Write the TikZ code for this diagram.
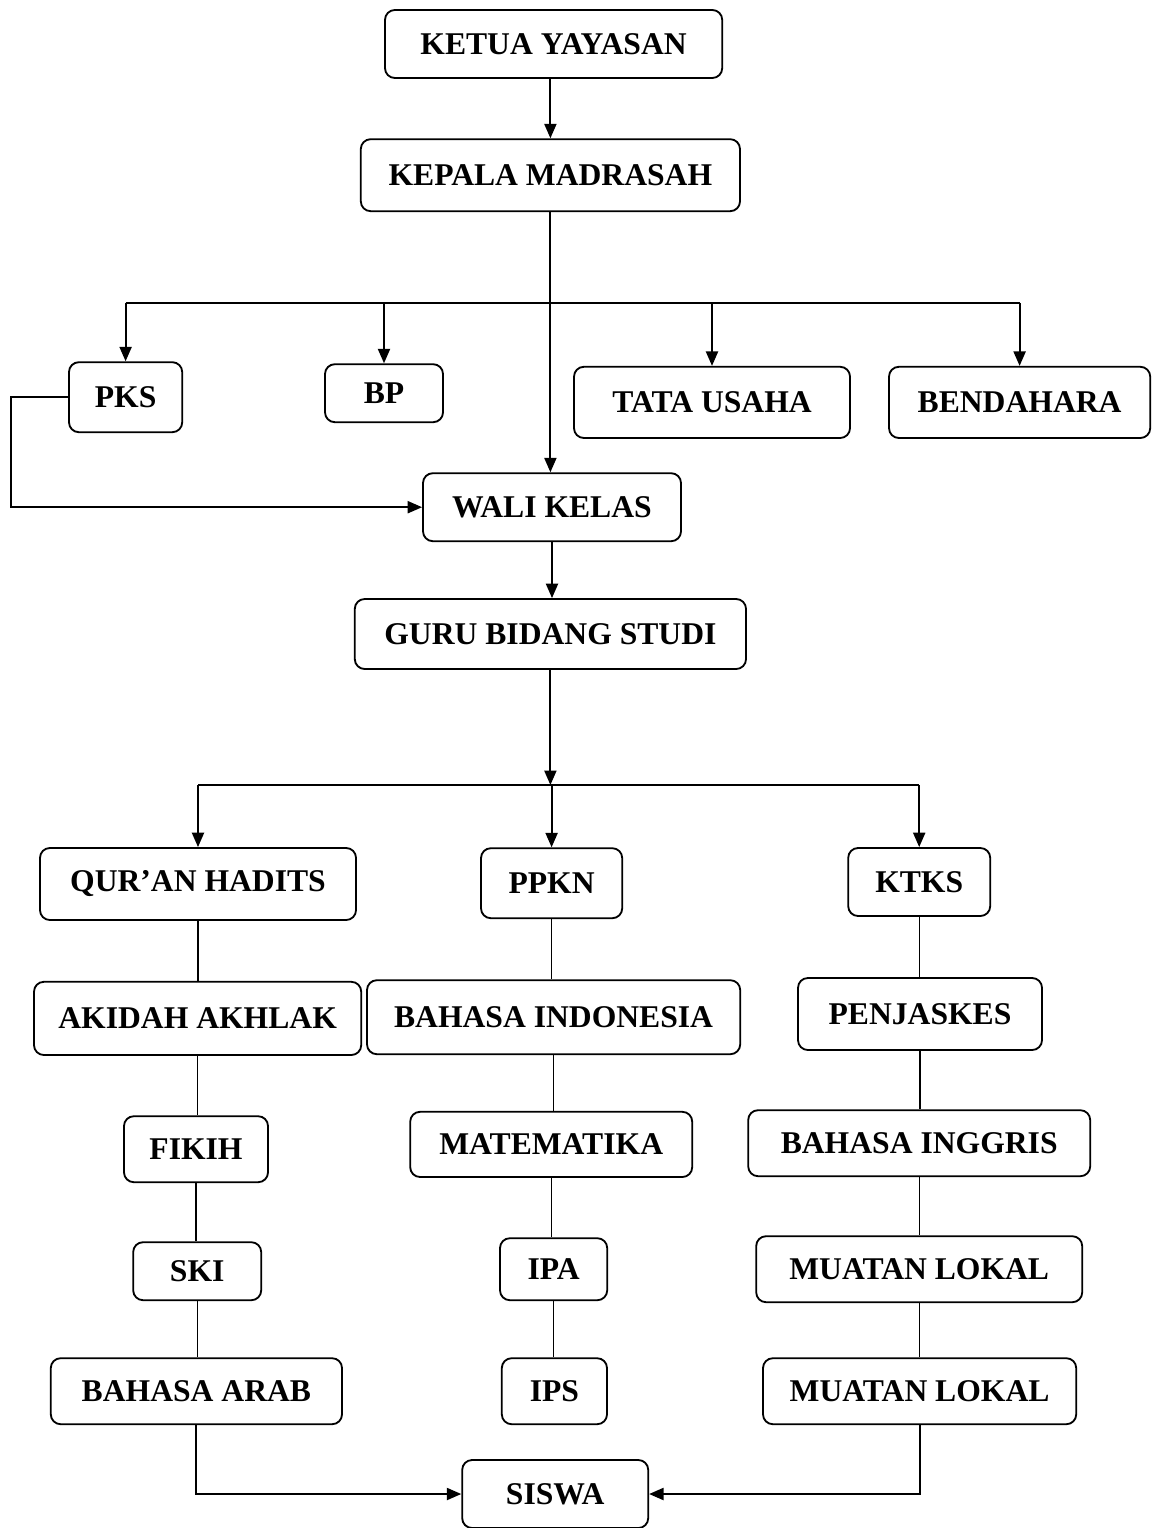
\documentclass[tikz,border=0pt]{standalone}
\usepackage{fontspec}
\setmainfont{Liberation Serif}
\usetikzlibrary{arrows.meta}

\begin{document}
\begin{tikzpicture}[>={Triangle[length=0.36cm, width=0.3cm]},
  box/.style={draw, line width=1.3pt, rounded corners=7pt, inner sep=0pt,
              font=\fontsize{22.5}{27}\selectfont\bfseries, align=center},
  link/.style={line width=1.4pt},
  stem/.style={line width=0.8pt}]
  \useasboundingbox (0,0) rectangle (28.9,-38.2);
  \node[box, minimum width=8.43cm, minimum height=1.70cm] (ketua) at (13.84,-1.10) {KETUA YAYASAN};
  \node[box, minimum width=9.48cm, minimum height=1.80cm] (kepala) at (13.76,-4.38) {KEPALA MADRASAH};
  \node[box, minimum width=2.83cm, minimum height=1.75cm] (pks) at (3.14,-9.93) {PKS};
  \node[box, minimum width=2.95cm, minimum height=1.45cm] (bp) at (9.60,-9.83) {BP};
  \node[box, minimum width=6.90cm, minimum height=1.78cm] (tata) at (17.80,-10.06) {TATA USAHA};
  \node[box, minimum width=6.53cm, minimum height=1.78cm] (bendahara) at (25.49,-10.06) {BENDAHARA};
  \node[box, minimum width=6.45cm, minimum height=1.70cm] (wali) at (13.80,-12.68) {WALI KELAS};
  \node[box, minimum width=9.78cm, minimum height=1.75cm] (guru) at (13.76,-15.85) {GURU BIDANG STUDI};
  \node[box, minimum width=7.90cm, minimum height=1.80cm] (quran) at (4.95,-22.10) {QUR’AN HADITS};
  \node[box, minimum width=3.53cm, minimum height=1.75cm] (ppkn) at (13.79,-22.08) {PPKN};
  \node[box, minimum width=3.55cm, minimum height=1.70cm] (ktks) at (22.98,-22.05) {KTKS};
  \node[box, minimum width=8.18cm, minimum height=1.83cm] (akidah) at (4.94,-25.46) {AKIDAH AKHLAK};
  \node[box, minimum width=9.33cm, minimum height=1.85cm] (bindo) at (13.84,-25.43) {BAHASA INDONESIA};
  \node[box, minimum width=6.10cm, minimum height=1.80cm] (penjas) at (23.00,-25.35) {PENJASKES};
  \node[box, minimum width=3.60cm, minimum height=1.65cm] (fikih) at (4.90,-28.73) {FIKIH};
  \node[box, minimum width=7.05cm, minimum height=1.63cm] (mtk) at (13.78,-28.61) {MATEMATIKA};
  \node[box, minimum width=8.55cm, minimum height=1.65cm] (bing) at (22.98,-28.58) {BAHASA INGGRIS};
  \node[box, minimum width=3.20cm, minimum height=1.45cm] (ski) at (4.93,-31.78) {SKI};
  \node[box, minimum width=2.68cm, minimum height=1.55cm] (ipa) at (13.84,-31.73) {IPA};
  \node[box, minimum width=8.15cm, minimum height=1.65cm] (mulokA) at (22.98,-31.73) {MUATAN LOKAL};
  \node[box, minimum width=7.28cm, minimum height=1.65cm] (arab) at (4.91,-34.78) {BAHASA ARAB};
  \node[box, minimum width=2.63cm, minimum height=1.65cm] (ips) at (13.86,-34.78) {IPS};
  \node[box, minimum width=7.83cm, minimum height=1.65cm] (mulokB) at (22.99,-34.78) {MUATAN LOKAL};
  \node[box, minimum width=4.65cm, minimum height=1.70cm] (siswa) at (13.88,-37.35) {SISWA};
  \draw[link, ->] (kepala.north |- ketua.south) -- (kepala.north);
  \coordinate (topbar) at (0,-7.575);
  \draw[link] (pks.north |- topbar) -- (bendahara.north |- topbar);
  \foreach \n in {pks, bp, tata, bendahara}
    \draw[link, ->] (\n.north |- topbar) -- (\n.north);
  \draw[link, ->] (kepala.south) -- (kepala.south |- wali.north);
  \draw[link, ->] (pks.west) -- ++(-1.43,0) |- (wali.west);
  \draw[link, ->] (wali.south) -- (wali.south |- guru.north);
  \coordinate (midbar) at (0,-19.625);
  \draw[link, ->] (guru.south) -- (guru.south |- midbar);
  \draw[link] (quran.north |- midbar) -- (ktks.north |- midbar);
  \foreach \n in {quran, ppkn, ktks}
    \draw[link, ->] (\n.north |- midbar) -- (\n.north);
  \foreach \a/\b in {quran/akidah, akidah/fikih, fikih/ski, ski/arab,
                     ppkn/bindo, bindo/mtk, mtk/ipa, ipa/ips,
                     ktks/penjas, penjas/bing, bing/mulokA, mulokA/mulokB}
    \draw[stem] (\a.south) -- (\a.south |- \b.north);
  \draw[link, ->] (arab.south) |- (siswa.west);
  \draw[link, ->] (mulokB.south) |- (siswa.east);
\end{tikzpicture}
\end{document}
